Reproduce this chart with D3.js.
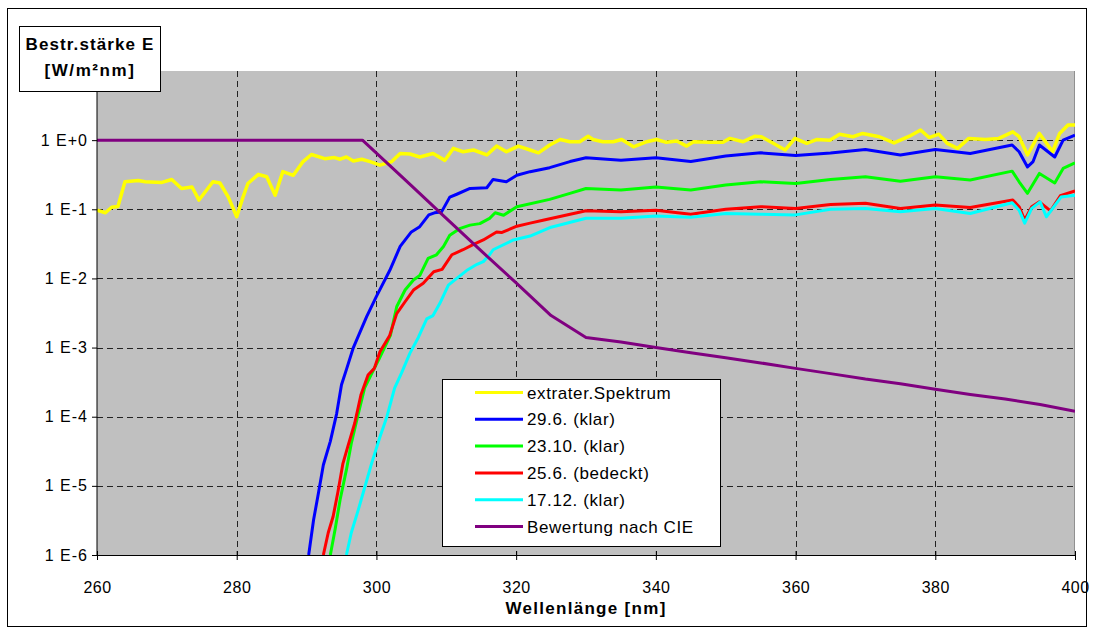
<!DOCTYPE html>
<html>
<head>
<meta charset="utf-8">
<script src="https://cdn.jsdelivr.net/npm/d3@7"></script>
<style>
  body { margin: 0; background: #fff; }
  svg { display: block; font-family: "Liberation Sans", Arial, sans-serif; }
</style>
</head>
<body>
<div id="chart-container"></div>
<script>
const xTicks = [260, 280, 300, 320, 340, 360, 380, 400];
const yTicks = [1e-6, 1e-5, 1e-4, 1e-3, 1e-2, 1e-1, 1];
const yTickLabels = ["1 E-6", "1 E-5", "1 E-4", "1 E-3", "1 E-2", "1 E-1", "1 E+0"];

const seriesNames = ["extrater.Spektrum", "29.6. (klar)", "23.10. (klar)", "25.6. (bedeckt)", "17.12. (klar)", "Bewertung nach CIE"];
const seriesColors = ["#ffff00", "#0000ff", "#00ff00", "#ff0000", "#00ffff", "#800080"];

// extraterrestrisches Spektrum
const extraNm = [260, 261.2, 262.1, 263, 264, 265.9, 266.9, 269.3, 270.7, 272.1,
  273.6, 274.6, 276.6, 277.6, 278.8, 280, 280.9, 281.6, 283.1, 284.3,
  285.5, 286.6, 288.1, 289.5, 290.7, 292.6, 294, 294.8, 295.7, 296.7,
  297.9, 299.1, 300.5, 302.2, 303.4, 304.8, 306.2, 308.1, 309.8, 311,
  312.4, 313.9, 315.8, 317.2, 318.6, 320.3, 322, 323.2, 324.8, 326.3,
  327.7, 329.1, 330.3, 331, 332.4, 333.9, 335.1, 336.8, 338.7, 340.1,
  341.5, 343, 344.4, 345.4, 347.7, 349.6, 350.6, 352.5, 354.2, 355.1,
  356.8, 358.5, 359.9, 361.6, 363, 364.9, 366.3, 368.2, 369.6, 372,
  374.1, 376.3, 377.9, 379.1, 380.5, 381.7, 383.2, 384.8, 387.2, 389.1,
  391.1, 392, 393.2, 394.9, 396.8, 397.8, 399, 400];
const extraE = [0.097, 0.089, 0.107, 0.11, 0.25, 0.26, 0.25, 0.245, 0.27, 0.20,
  0.21, 0.136, 0.25, 0.24, 0.15, 0.078, 0.15, 0.236, 0.32, 0.295,
  0.16, 0.35, 0.31, 0.49, 0.62, 0.54, 0.56, 0.53, 0.57, 0.50,
  0.53, 0.49, 0.435, 0.49, 0.64, 0.63, 0.57, 0.64, 0.51, 0.76,
  0.68, 0.72, 0.61, 0.82, 0.68, 0.82, 0.72, 0.655, 0.85, 1.02,
  0.95, 0.95, 1.14, 1.02, 0.95, 0.95, 1.02, 0.80, 0.95, 1.02,
  0.93, 0.97, 0.82, 0.95, 0.93, 0.93, 1.06, 0.95, 1.14, 1.12,
  0.90, 0.72, 1.06, 0.90, 1.02, 1.0, 1.22, 1.12, 1.25, 1.12,
  0.91, 1.14, 1.40, 1.09, 1.22, 0.90, 0.76, 1.06, 1.02, 1.06,
  1.32, 1.12, 0.61, 1.25, 0.68, 1.25, 1.65, 1.65];

// 29.6. (klar)
const juneClearNm = [290.3, 291, 291.7, 292.4, 293.4, 294.3, 295, 295.7, 296.7, 298.6,
  300, 301.9, 303.4, 305, 306.2, 307.5, 308.3, 309.3, 310.5, 311.5,
  313.4, 315.8, 316.7, 318.6, 320.1, 322, 324.8, 327.7, 330, 335,
  340, 345, 350, 355, 360, 365, 370, 375, 380, 385,
  391, 392, 393.2, 394, 394.9, 397.1, 398.3, 400];
const juneClearE = [1e-6, 3.2e-6, 7.9e-6, 2.0e-5, 4.4e-5, 1.1e-4, 2.9e-4, 4.8e-4, 1.0e-3, 2.8e-3,
  5.5e-3, 1.3e-2, 2.9e-2, 4.7e-2, 5.6e-2, 8.3e-2, 0.089, 0.091, 0.15, 0.165,
  0.20, 0.205, 0.27, 0.25, 0.31, 0.35, 0.40, 0.49, 0.555, 0.51,
  0.555, 0.49, 0.59, 0.655, 0.60, 0.65, 0.73, 0.61, 0.73, 0.64,
  0.85, 0.68, 0.41, 0.49, 0.85, 0.57, 1.0, 1.18];

// 23.10. (klar)
const octClearNm = [293.4, 294.1, 294.8, 295.7, 296.4, 297.4, 298.3, 299.6, 300.3, 302,
  302.9, 304.1, 305.3, 306.2, 307.4, 308.6, 309.6, 310.5, 312, 313.4,
  314.8, 316.2, 317, 318.2, 320.1, 324.8, 327.7, 330, 335, 340,
  345, 350, 355, 360, 365, 370, 375, 380, 385, 391,
  392, 393.2, 394.9, 397.1, 398.3, 400];
const octClearE = [1e-6, 2.4e-6, 6.3e-6, 1.7e-5, 4.1e-5, 1.1e-4, 2.6e-4, 4.8e-4, 6.6e-4, 1.5e-3,
  3.9e-3, 6.8e-3, 9.5e-3, 1.1e-2, 1.95e-2, 2.2e-2, 2.9e-2, 4.2e-2, 5.3e-2, 5.9e-2,
  6.2e-2, 7.4e-2, 8.9e-2, 0.082, 0.109, 0.139, 0.17, 0.20, 0.19, 0.21,
  0.19, 0.225, 0.25, 0.236, 0.27, 0.295, 0.255, 0.295, 0.265, 0.356,
  0.25, 0.17, 0.33, 0.24, 0.39, 0.47];

// 25.6. (bedeckt)
const juneCloudNm = [292.4, 293.1, 293.8, 294.5, 295.2, 295.9, 296.9, 297.8, 298.8, 299.7,
  300.5, 301.9, 302.9, 304.1, 305.3, 306.7, 308.2, 309.4, 310.8, 312.4,
  313.9, 315.3, 317.2, 317.9, 320.1, 322, 324, 330, 335, 340,
  345, 350, 355, 360, 365, 370, 375, 380, 385, 391.1,
  392, 392.8, 393.8, 394.9, 396.5, 397.9, 400];
const juneCloudE = [1e-6, 2.1e-6, 3.6e-6, 8.3e-6, 2.1e-5, 3.7e-5, 8.1e-5, 2.1e-4, 4.0e-4, 5.0e-4,
  8.7e-4, 1.5e-3, 3.1e-3, 4.6e-3, 6.8e-3, 8.5e-3, 1.25e-2, 1.35e-2, 2.2e-2, 2.6e-2,
  3.1e-2, 3.6e-2, 0.047, 0.046, 0.057, 0.063, 0.070, 0.095, 0.092, 0.097,
  0.085, 0.10, 0.109, 0.103, 0.117, 0.122, 0.103, 0.115, 0.106, 0.136,
  0.109, 0.07, 0.109, 0.128, 0.095, 0.157, 0.185];

// 17.12. (klar)
const decClearNm = [295.7, 296.4, 297.4, 298.3, 299.3, 300.5, 301.5, 302.6, 303.6, 304.8,
  306, 307.2, 308.1, 309.1, 310.3, 311.5, 312.9, 314.4, 315.3, 316.2,
  316.7, 319.6, 322, 325, 330, 335, 340, 345, 350, 355,
  360, 365, 370, 375, 380, 385, 391, 392, 392.8, 393.8,
  395, 395.9, 398, 400];
const decClearE = [1e-6, 2.1e-6, 4.5e-6, 9.3e-6, 2.1e-5, 5.1e-5, 1e-4, 2.6e-4, 4.3e-4, 8.3e-4,
  1.4e-3, 2.6e-3, 2.9e-3, 4.4e-3, 8.0e-3, 1.0e-2, 1.3e-2, 1.6e-2, 1.75e-2, 2.2e-2,
  0.026, 0.036, 0.041, 0.055, 0.074, 0.074, 0.08, 0.077, 0.087, 0.085,
  0.083, 0.10, 0.103, 0.092, 0.103, 0.087, 0.124, 0.097, 0.063, 0.103,
  0.128, 0.078, 0.15, 0.16];

// Bewertung nach CIE
const cieNm = [260, 298, 300, 305, 310, 315, 320, 325, 330, 335,
  340, 345, 350, 355, 360, 365, 370, 375, 380, 385,
  390, 395, 400];
const cieE = [1, 1, 0.65, 0.22, 0.074, 0.025, 0.0086, 0.0029, 0.0014, 0.0012,
  0.001, 0.00084, 0.00071, 0.0006, 0.0005, 0.00042, 0.00035, 0.0003, 0.00025, 0.00021,
  0.00018, 0.00015, 0.00012];

const seriesNm = [extraNm, juneClearNm, octClearNm, juneCloudNm, decClearNm, cieNm];
const seriesE = [extraE, juneClearE, octClearE, juneCloudE, decClearE, cieE];

const width = 1094, height = 634;
const margin = { top: 71, left: 97, right: 19, bottom: 79 };

const svg = d3.select("#chart-container").append("svg")
  .attr("width", width)
  .attr("height", height);

svg.append("rect")
  .attr("x", 7.5).attr("y", 8.5)
  .attr("width", 1079).attr("height", 618)
  .attr("fill", "#fff").attr("stroke", "#000");

const x = d3.scaleLinear()
  .domain([260, 400])
  .range([margin.left, width - margin.right]);
const y = d3.scaleLog()
  .domain([1e-6, 10])
  .range([height - margin.bottom, margin.top]);

svg.append("rect")
  .attr("x", x(260)).attr("y", y(10))
  .attr("width", x(400) - x(260)).attr("height", y(1e-6) - y(10))
  .attr("fill", "#c0c0c0");

svg.append("defs").append("clipPath").attr("id", "plot-clip")
  .append("rect")
  .attr("x", x(260)).attr("y", y(10))
  .attr("width", x(400) - x(260)).attr("height", y(1e-6) - y(10));

const grid = svg.append("g")
  .attr("stroke", "#222")
  .attr("stroke-width", 1)
  .attr("stroke-dasharray", "6,4");

grid.selectAll(".vgrid")
  .data(xTicks.slice(1, -1))
  .enter().append("line")
  .attr("class", "vgrid")
  .attr("x1", d => Math.round(x(d)) + 0.5).attr("x2", d => Math.round(x(d)) + 0.5)
  .attr("y1", y(10)).attr("y2", y(1e-6));

grid.selectAll(".hgrid")
  .data(yTicks.slice(1))
  .enter().append("line")
  .attr("class", "hgrid")
  .attr("y1", d => Math.round(y(d)) + 0.5).attr("y2", d => Math.round(y(d)) + 0.5)
  .attr("x1", x(260)).attr("x2", x(400));

svg.append("line")
  .attr("x1", x(400) - 0.5).attr("x2", x(400) - 0.5)
  .attr("y1", y(10)).attr("y2", y(1e-6))
  .attr("stroke", "#909090");

const line = d3.line()
  .x(d => x(d[0]))
  .y(d => y(d[1]));

const plot = svg.append("g").attr("clip-path", "url(#plot-clip)");

plot.selectAll(".series")
  .data(seriesNames.map((name, i) => ({ name, color: seriesColors[i], values: d3.zip(seriesNm[i], seriesE[i]) })))
  .enter().append("path")
  .attr("class", "series")
  .attr("fill", "none")
  .attr("stroke", d => d.color)
  .attr("stroke-width", (d, i) => i === 0 ? 3.5 : 3)
  .attr("stroke-linejoin", "round")
  .attr("d", d => line(d.values));

// Achsen
const yAxis = g => g
  .attr("transform", `translate(${x(260)},0)`)
  .call(d3.axisLeft(y).tickValues(yTicks).tickFormat((d, i) => yTickLabels[i]).tickSize(5).tickPadding(4))
  .call(g => g.select(".domain").remove())
  .call(g => g.selectAll("text").attr("font-size", 16).attr("letter-spacing", 1).attr("fill", "#000").attr("font-family", null));

const xAxis = g => g
  .attr("transform", `translate(0,${y(1e-6)})`)
  .call(d3.axisBottom(x).tickValues(xTicks).tickSize(5).tickPadding(22))
  .call(g => g.select(".domain").remove())
  .call(g => g.selectAll(".tick line").attr("y1", -4))
  .call(g => g.selectAll("text").attr("font-size", 16).attr("letter-spacing", 0.5).attr("fill", "#000").attr("font-family", null));

svg.append("g").call(yAxis);
svg.append("g").call(xAxis);

svg.append("line")
  .attr("x1", x(260)).attr("x2", x(260))
  .attr("y1", y(10)).attr("y2", y(1e-6) + 0.5)
  .attr("stroke", "#000");
svg.append("line")
  .attr("x1", x(260)).attr("x2", x(400))
  .attr("y1", y(1e-6) + 0.5).attr("y2", y(1e-6) + 0.5)
  .attr("stroke", "#000");

svg.append("text")
  .attr("x", (x(260) + x(400)) / 2)
  .attr("y", 614)
  .attr("text-anchor", "middle")
  .attr("font-size", 17)
  .attr("letter-spacing", 1.3)
  .attr("font-weight", "bold")
  .text("Wellenlänge [nm]");

// Titel der y-Achse
const title = svg.append("g");
title.append("rect")
  .attr("x", 19.5).attr("y", 26.5)
  .attr("width", 141).attr("height", 65)
  .attr("fill", "#fff").attr("stroke", "#000");
title.selectAll("text")
  .data(["Bestr.stärke E", "[W/m²nm]"])
  .enter().append("text")
  .attr("x", 90)
  .attr("y", (d, i) => 50 + i * 26)
  .attr("text-anchor", "middle")
  .attr("font-size", 17)
  .attr("letter-spacing", (d, i) => i === 0 ? 1.1 : 1.6)
  .attr("font-weight", "bold")
  .text(d => d);

// Legende
const legend = svg.append("g").attr("transform", "translate(442,379)");
legend.append("rect")
  .attr("x", 0.5).attr("y", 0.5)
  .attr("width", 278).attr("height", 167)
  .attr("fill", "#fff").attr("stroke", "#000");

const item = legend.selectAll(".item")
  .data(seriesNames)
  .enter().append("g")
  .attr("class", "item")
  .attr("transform", (d, i) => `translate(0,${13.5 + i * 26.8})`);

item.append("line")
  .attr("x1", 33).attr("x2", 81)
  .attr("stroke", (d, i) => seriesColors[i])
  .attr("stroke-width", 3);

item.append("text")
  .attr("x", 85)
  .attr("dy", "0.36em")
  .attr("font-size", 17)
  .attr("letter-spacing", 0.6)
  .text(d => d);
</script>
</body>
</html>
